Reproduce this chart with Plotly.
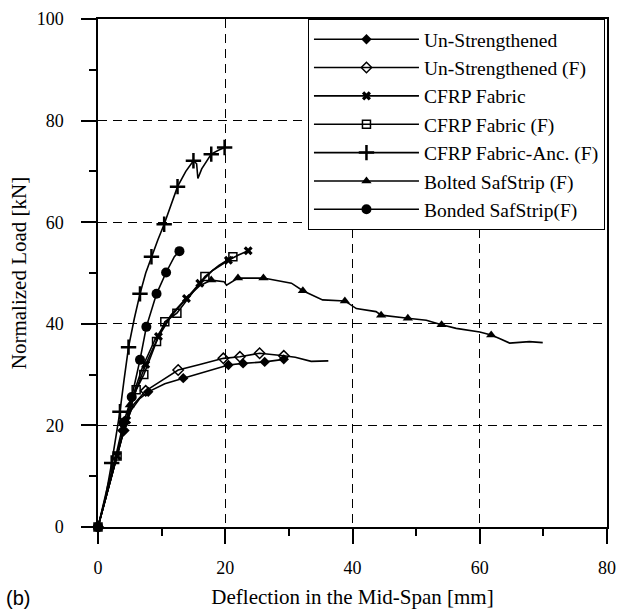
import plotly.graph_objects as go

# ---------------- data ----------------
unstr_x = [0, 1.5, 2.8, 4.0, 5.2, 6.5, 7.9, 10.5, 13.4, 17.0, 20.5, 22.8, 26.2, 29.2]
unstr_y = [0, 7, 13, 19, 23, 25.2, 26.6, 28.2, 29.3, 30.6, 31.9, 32.2, 32.5, 33.0]
unstr_marks = [0, 3, 6, 8, 10, 11, 12, 13]

unstrF_x = [0, 1.5, 2.8, 4.0, 5.5, 7.5, 10.0, 12.6, 16.0, 19.7, 22.3, 25.4, 29.2, 31.0, 33.5, 36.2]
unstrF_y = [0, 7, 13, 19, 24, 26.8, 28.8, 30.9, 32.0, 33.2, 33.5, 34.2, 33.7, 33.4, 32.6, 32.7]
unstrF_marks = [0, 3, 5, 7, 9, 10, 11, 12]

fab_x = [0, 1.5, 3.0, 4.5, 6.0, 7.5, 9.5, 11.5, 13.9, 16.0, 18.0, 20.5, 22.0, 23.6]
fab_y = [0, 7, 14, 21, 27, 32, 37.5, 41.5, 45.0, 48.0, 50.5, 52.5, 53.5, 54.4]
fab_marks = [0, 2, 3, 5, 6, 8, 9, 11, 13]

fabF_x = [0, 1.5, 3.0, 4.5, 6.0, 7.2, 9.2, 10.5, 12.4, 14.5, 16.8, 19.0, 21.2]
fabF_y = [0, 7, 14, 21, 27, 30, 36.5, 40.4, 42.1, 45.5, 49.3, 51.5, 53.2]
fabF_marks = [0, 2, 4, 5, 6, 7, 8, 10, 12]

anc_x = [0, 1.2, 2.15, 3.45, 4.1, 4.8, 5.7, 6.6, 7.5, 8.4, 9.4, 10.4, 11.5, 12.5, 13.8, 15.0, 15.5, 15.7, 16.3, 17.8, 19.0, 19.9]
anc_y = [0, 6, 12.6, 22.7, 29, 35.4, 41, 45.9, 50, 53.2, 56.5, 59.6, 63.5, 67.0, 70.0, 72.1, 71.5, 68.6, 70.5, 73.4, 74.2, 74.7]
anc_marks = [2, 3, 5, 7, 9, 11, 13, 15, 19, 21]

bolt_x = [0, 1.5, 3.0, 5.0, 7.0, 9.0, 11.5, 14.0, 16.0, 17.8, 19.8, 20.2, 22.0, 26.0, 28.5, 30.4,
          32.2, 35.3, 38.8, 40.6, 43.7, 44.5, 48.7, 51.6, 54.0, 56.3, 60.0, 61.8, 63.1, 64.7, 67.8, 69.9]
bolt_y = [0, 7, 14, 24, 31.5, 37, 41.8, 45.2, 47.5, 48.6, 48.3, 47.6, 49.0, 49.0, 48.4, 48.0,
          46.5, 44.7, 44.5, 43.0, 42.4, 41.7, 41.1, 40.7, 39.8, 39.1, 38.4, 37.8, 37.1, 36.2, 36.5, 36.3]
bolt_marks = [0, 3, 9, 12, 13, 16, 18, 21, 22, 24, 27]

bond_x = [0, 1.5, 2.8, 4.0, 5.3, 6.6, 7.6, 9.2, 10.7, 12.0, 12.8]
bond_y = [0, 8, 14, 20.5, 25.6, 32.9, 39.4, 45.9, 50.1, 53.2, 54.3]
bond_marks = [0, 3, 4, 5, 6, 7, 8, 10]

series = [
    ("Un-Strengthened", unstr_x, unstr_y, unstr_marks, dict(symbol="diamond", size=8, color="black")),
    ("Un-Strengthened (F)", unstrF_x, unstrF_y, unstrF_marks, dict(symbol="diamond-open", size=8, color="black", line=dict(width=1.5))),
    ("CFRP Fabric", fab_x, fab_y, fab_marks, dict(symbol="x", size=8, color="black")),
    ("CFRP Fabric (F)", fabF_x, fabF_y, fabF_marks, dict(symbol="square-open", size=8, color="black", line=dict(width=1.5))),
    ("CFRP Fabric-Anc. (F)", anc_x, anc_y, anc_marks, dict(symbol="cross-thin", size=11, color="black", line=dict(width=2.5, color="black"))),
    ("Bolted SafStrip (F)", bolt_x, bolt_y, bolt_marks, dict(symbol="triangle-up", size=9, color="black")),
    ("Bonded SafStrip(F)", bond_x, bond_y, bond_marks, dict(symbol="circle", size=10, color="black")),
]

FONT = "Liberation Serif"
LINE = dict(color="black", width=1.6)
fig = go.Figure()
for name, xs, ys, marks, mk in series:
    # the curve itself
    fig.add_trace(go.Scatter(x=xs, y=ys, mode="lines", line=LINE, legendgroup=name,
                             showlegend=False, cliponaxis=False, hoverinfo="skip"))
    # the measured points that carry a symbol
    fig.add_trace(go.Scatter(x=[xs[i] for i in marks], y=[ys[i] for i in marks], mode="markers",
                             marker=mk, legendgroup=name, showlegend=False, cliponaxis=False, name=name))
    # legend entry (line + symbol)
    fig.add_trace(go.Scatter(x=[None], y=[None], mode="lines+markers", line=LINE, marker=mk,
                             name=name, legendgroup=name, showlegend=True))

axis_common = dict(
    showline=True, linecolor="black", linewidth=1.5, mirror=True,
    ticks="outside", ticklen=15, tickwidth=1.5, tickcolor="black",
    showgrid=True, gridcolor="black", gridwidth=1, griddash="9px,6px",
    zeroline=False, tickfont=dict(family=FONT, size=18, color="black"),
    minor=dict(ticks="outside", ticklen=7, tickwidth=1.5, tickcolor="black", dtick=10, showgrid=False),
)

fig.update_xaxes(range=[0, 80], dtick=20, ticklabelstandoff=9,
                 title=dict(text="Deflection in the Mid-Span [mm]", font=dict(family=FONT, size=21, color="black"), standoff=12),
                 **axis_common)
fig.update_yaxes(range=[0, 100], dtick=20, ticklabelstandoff=14,
                 title=dict(text="Normalized Load [kN]", font=dict(family=FONT, size=21, color="black"), standoff=4),
                 **axis_common)

fig.add_annotation(text="(b)", xref="paper", yref="paper", x=-0.185, y=-0.14,
                   xanchor="left", yanchor="middle", showarrow=False,
                   font=dict(family="Liberation Sans", size=20, color="black"))

fig.update_layout(
    width=617, height=611,
    margin=dict(l=98, r=10, t=19, b=84, autoexpand=False),
    paper_bgcolor="white", plot_bgcolor="white",
    showlegend=True,
    legend=dict(x=0.996, xanchor="right", y=1.0, yanchor="top",
                bgcolor="white", bordercolor="black", borderwidth=1,
                font=dict(family=FONT, size=19.5, color="black"),
                itemwidth=105, tracegroupgap=0),
)

fig.write_html("out.html", config={"displayModeBar": False},
               post_script="document.body.style.margin='0px';")
